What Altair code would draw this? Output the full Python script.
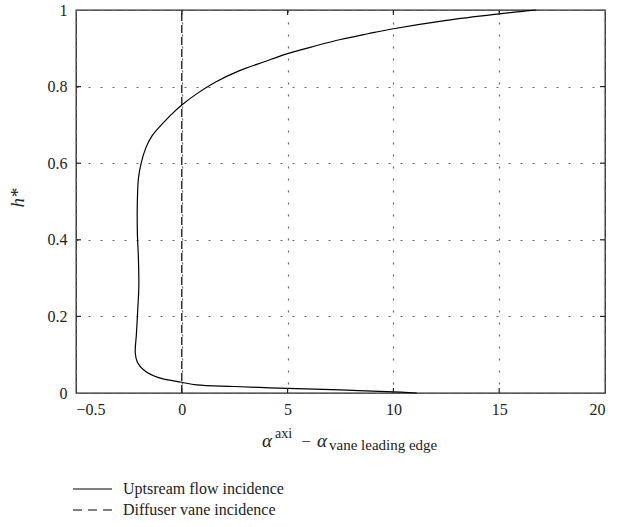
import altair as alt
import pandas as pd

# Upstream flow incidence curve (alpha difference vs h*)
up_x = [11.1, 10.0, 7.5, 5.0, 2.5, 0.7, 0.0, -1.1, -1.8, -2.1, -2.2, -2.15, -2.08, -2.03,
        -2.05, -2.10, -2.10, -2.05, -1.92, -1.70, -1.40, -1.0, -0.5, 0.0, 0.7, 1.6, 2.7,
        3.9, 5.0, 6.3, 7.5, 8.8, 10.0, 12.5, 15.0, 16.0, 16.75]
up_y = [0.0, 0.003, 0.008, 0.012, 0.017, 0.021, 0.028, 0.040, 0.060, 0.080, 0.105, 0.15,
        0.22, 0.28, 0.35, 0.42, 0.50, 0.56, 0.60, 0.64, 0.672, 0.698, 0.727, 0.752, 0.781,
        0.812, 0.841, 0.865, 0.886, 0.906, 0.923, 0.938, 0.951, 0.973, 0.990, 0.996, 1.0]

# Diffuser vane incidence (vertical line at 0)
vane_x = [0.0, 0.0]
vane_y = [0.0, 1.0]

series_names = ["Uptsream flow incidence", "Diffuser vane incidence"]

x_ticks = [-5, 0, 5, 10, 15, 20]
y_ticks = [0, 0.2, 0.4, 0.6, 0.8, 1.0]

up_df = pd.DataFrame({"x": up_x, "y": up_y, "o": list(range(len(up_x))),
                      "series": series_names[0]})
vane_df = pd.DataFrame({"x": vane_x, "y": vane_y, "o": [0, 1], "series": series_names[1]})

W, H = 529, 383
FONT = "Liberation Serif"
INK = "#222"

xscale = alt.Scale(domain=[-5, 20], nice=False, zero=False)
yscale = alt.Scale(domain=[0, 1], nice=False, zero=False)

xaxis = alt.Axis(values=x_ticks, title=None, grid=True, gridDash=[2, 10],
                 gridColor="#666", gridWidth=1.2, domain=False, ticks=False,
                 labelPadding=8, labelFont=FONT, labelFontSize=16, labelColor=INK,
                 labelExpr="datum.value == -5 ? '\u22120.5' : datum.label")
yaxis = alt.Axis(values=y_ticks, title=None, grid=True, gridDash=[2, 10],
                 gridColor="#666", gridWidth=1.2, domain=False, ticks=False,
                 labelPadding=9, labelFont=FONT, labelFontSize=16, labelColor=INK,
                 format="~g")

up_line = alt.Chart(up_df).mark_line(strokeWidth=1.2, color="black",
                                     interpolate="catmull-rom").encode(
    x=alt.X("x:Q", scale=xscale, axis=xaxis),
    y=alt.Y("y:Q", scale=yscale, axis=yaxis),
    order="o:Q",
)
vane_line = alt.Chart(vane_df).mark_line(strokeWidth=1.2, color="black",
                                         strokeDash=[8, 4]).encode(
    x=alt.X("x:Q", scale=xscale),
    y=alt.Y("y:Q", scale=yscale),
    order="o:Q",
)

xt = pd.DataFrame({"v": x_ticks[1:-1]})
yt = pd.DataFrame({"v": y_ticks[1:-1]})
tick_style = dict(color=INK, strokeWidth=1.2)
xb = alt.Chart(xt).mark_rule(**tick_style).encode(
    x=alt.X("v:Q", scale=xscale), y=alt.value(H), y2=alt.value(H - 5))
xtop = alt.Chart(xt).mark_rule(**tick_style).encode(
    x=alt.X("v:Q", scale=xscale), y=alt.value(0), y2=alt.value(5))
yl = alt.Chart(yt).mark_rule(**tick_style).encode(
    y=alt.Y("v:Q", scale=yscale), x=alt.value(0), x2=alt.value(5))
yr = alt.Chart(yt).mark_rule(**tick_style).encode(
    y=alt.Y("v:Q", scale=yscale), x=alt.value(W), x2=alt.value(W - 5))


def txt(s, x, y, size, italic=False, angle=0, align="left", baseline="alphabetic"):
    kw = dict(font=FONT, fontSize=size, color=INK, align=align, baseline=baseline)
    if italic:
        kw["fontStyle"] = "italic"
    if angle:
        kw["angle"] = angle
    return alt.Chart(pd.DataFrame({"t": [s]})).mark_text(**kw).encode(
        text="t:N", x=alt.value(x), y=alt.value(y))


title_parts = [
    txt("\u03b1", 186, 437, 19, italic=True),
    txt("axi", 199, 428, 14),
    txt("\u2212", 230, 432, 17, align="center", baseline="middle"),
    txt("\u03b1", 241, 437, 19, italic=True),
    txt("vane leading edge", 253, 440, 15),
    txt("h*", -58, 188, 19, italic=True, angle=270, align="center", baseline="middle"),
]

# manual legend
leg_solid = alt.Chart(pd.DataFrame({"s": [series_names[0]]})).mark_rule(
    color="black", strokeWidth=1.2).encode(
    x=alt.value(-3), x2=alt.value(36), y=alt.value(479))
leg_dash = alt.Chart(pd.DataFrame({"s": [series_names[1]]})).mark_rule(
    color="black", strokeWidth=1.2, strokeDash=[9, 6]).encode(
    x=alt.value(-3), x2=alt.value(36), y=alt.value(500))
leg_t1 = txt(series_names[0], 47, 479, 16, baseline="middle")
leg_t2 = txt(series_names[1], 47, 500, 16, baseline="middle")

chart = alt.layer(up_line, vane_line, xb, xtop, yl, yr, *title_parts,
                  leg_solid, leg_dash, leg_t1, leg_t2).properties(
    width=W, height=H,
    autosize=alt.AutoSizeParams(type="none"),
    padding={"left": 76, "top": 10, "right": 14, "bottom": 134},
).configure_view(stroke=INK, strokeWidth=1.3)

chart.save("out.html", embed_options={"renderer": "svg", "actions": False})
